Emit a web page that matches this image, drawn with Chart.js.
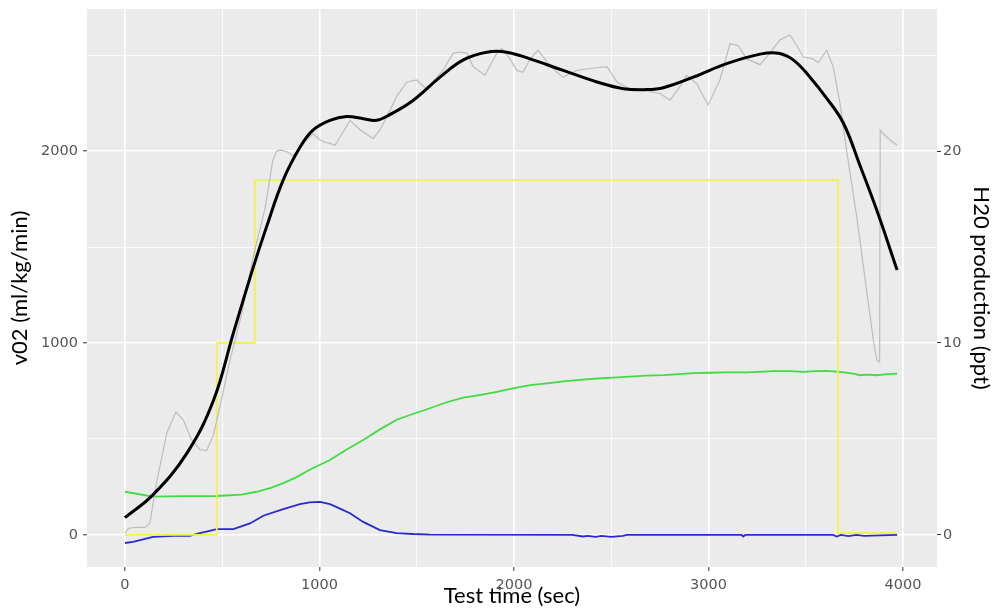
<!DOCTYPE html>
<html>
<head>
<meta charset="utf-8">
<script src="https://cdn.jsdelivr.net/npm/chart.js@4.4.0/dist/chart.umd.min.js"></script>
<style>
  html, body { margin: 0; padding: 0; background: #fff; }
  #wrap { width: 994px; height: 609px; }
</style>
</head>
<body>
<div id="wrap"><canvas id="vo2" width="994" height="609"></canvas></div>
<script>
// raw v02 trace (ml/kg/min)
const rawTime = [0, 20, 60, 100, 128, 160, 215, 262, 300, 340, 385, 420, 455, 500, 540, 600, 660, 720, 760, 780, 805, 835, 865, 900, 935, 968, 1000, 1030, 1054, 1080, 1110, 1157, 1210, 1276, 1310, 1347, 1400, 1450, 1500, 1552, 1590, 1635, 1688, 1720, 1758, 1790, 1851, 1912, 1938, 1980, 2015, 2047, 2083, 2125, 2170, 2210, 2253, 2324, 2390, 2478, 2530, 2596, 2650, 2700, 2750, 2802, 2850, 2888, 2940, 2998, 3059, 3111, 3152, 3197, 3265, 3300, 3368, 3419, 3454, 3488, 3539, 3564, 3608, 3641, 3676, 3710, 3762, 3815, 3850, 3866, 3880, 3883, 3900, 3930, 3970];
const rawV02 = [10, 35, 40, 38, 60, 260, 530, 640, 600, 500, 445, 440, 520, 720, 910, 1150, 1450, 1700, 1950, 2000, 2005, 1995, 1975, 2015, 2060, 2090, 2060, 2045, 2040, 2030, 2080, 2160, 2110, 2065, 2110, 2180, 2290, 2360, 2370, 2320, 2370, 2420, 2510, 2515, 2510, 2440, 2395, 2510, 2535, 2480, 2420, 2410, 2480, 2525, 2465, 2420, 2385, 2420, 2430, 2440, 2360, 2325, 2320, 2310, 2300, 2265, 2330, 2395, 2350, 2240, 2370, 2560, 2550, 2480, 2450, 2490, 2580, 2605, 2550, 2490, 2480, 2460, 2525, 2440, 2250, 2005, 1660, 1260, 1000, 910, 900, 2110, 2090, 2060, 2030];

// smoothed v02
const smoothTime = [0, 145, 318, 455, 557, 660, 728, 814, 900, 968, 1054, 1140, 1220, 1294, 1362, 1483, 1620, 1740, 1860, 1963, 2083, 2253, 2427, 2563, 2680, 2768, 2922, 3093, 3265, 3360, 3436, 3522, 3608, 3694, 3779, 3866, 3970];
const smoothV02 = [90, 210, 425, 700, 1050, 1395, 1605, 1850, 2020, 2110, 2160, 2180, 2170, 2160, 2190, 2265, 2385, 2475, 2515, 2515, 2480, 2420, 2360, 2325, 2320, 2330, 2385, 2455, 2505, 2510, 2475, 2385, 2275, 2145, 1925, 1690, 1380];

// step protocol (ppt axis)
const stepTime = [0, 472, 668, 3666, 3970];
const stepLevel = [0, 10, 18.5, 0.1, 0.1];

// H20 production (ppt)
const h2oTime = [0, 145, 300, 472, 600, 677, 750, 814, 880, 950, 1054, 1140, 1225, 1311, 1397, 1480, 1568, 1650, 1740, 1830, 1912, 2000, 2083, 2170, 2253, 2340, 2427, 2510, 2596, 2680, 2768, 2850, 2922, 3000, 3093, 3200, 3333, 3420, 3488, 3550, 3608, 3676, 3745, 3779, 3820, 3866, 3920, 3970];
const h2oPpt = [2.25, 2.0, 2.02, 2.03, 2.1, 2.25, 2.45, 2.7, 3.0, 3.4, 3.9, 4.45, 4.95, 5.5, 6.0, 6.3, 6.6, 6.9, 7.15, 7.3, 7.45, 7.65, 7.8, 7.9, 8.0, 8.08, 8.15, 8.2, 8.25, 8.3, 8.33, 8.38, 8.43, 8.45, 8.47, 8.47, 8.53, 8.53, 8.5, 8.53, 8.55, 8.5, 8.4, 8.32, 8.35, 8.32, 8.38, 8.4];

// second trace (ppt)
const blueTime = [0, 42, 145, 250, 334, 385, 430, 472, 557, 643, 711, 814, 900, 950, 1003, 1054, 1100, 1157, 1225, 1311, 1397, 1480, 1568, 2300, 2355, 2380, 2420, 2450, 2500, 2560, 2580, 3170, 3178, 3190, 3640, 3660, 3680, 3720, 3760, 3800, 3970];
const bluePpt = [-0.42, -0.36, -0.1, -0.05, -0.05, 0.1, 0.2, 0.3, 0.3, 0.6, 1.0, 1.35, 1.6, 1.7, 1.72, 1.6, 1.4, 1.13, 0.68, 0.25, 0.1, 0.05, 0.02, 0, -0.08, -0.05, -0.1, -0.05, -0.1, -0.05, 0, 0, -0.08, 0, 0, -0.08, 0, -0.06, 0, -0.05, 0];

const xGrid = [0, 500, 1000, 1500, 2000, 2500, 3000, 3500, 4000];
const yGrid = [0, 500, 1000, 1500, 2000, 2500];
const y2Ticks = [0, 10, 20];

const pts = (xs, ys) => xs.map((x, i) => ({x: x, y: ys[i]}));
const isMajor = (c) => c.tick && c.tick.value % 1000 === 0;
const tickFont = {family: 'DejaVu Sans', size: 14.5};
const titleFont = {family: 'Lato', size: 22};

const panelBg = {
  id: 'panelBg',
  beforeDraw(chart) {
    const {ctx, chartArea: a} = chart;
    ctx.save();
    ctx.fillStyle = '#EBEBEB';
    ctx.fillRect(a.left, a.top, a.right - a.left, a.bottom - a.top);
    ctx.restore();
  }
};

// fixed sizes so the panel sits where the original one does
const fitV = (w) => (s) => { s.width = w; s.paddingTop = 0; s.paddingBottom = 0; };

new Chart(document.getElementById('vo2'), {
  type: 'line',
  data: {
    datasets: [
      {
        data: pts(smoothTime, smoothV02),
        borderColor: '#000000', borderWidth: 3, tension: 0.4,
        yAxisID: 'y', pointRadius: 0
      },
      {
        data: pts(rawTime, rawV02),
        borderColor: '#BDBDBD', borderWidth: 1.2, tension: 0,
        yAxisID: 'y', pointRadius: 0
      },
      {
        data: pts(stepTime, stepLevel),
        borderColor: '#F2F250', borderWidth: 1.8, stepped: true,
        yAxisID: 'y2', pointRadius: 0
      },
      {
        data: pts(h2oTime, h2oPpt),
        borderColor: '#40DD40', borderWidth: 1.8, tension: 0,
        yAxisID: 'y2', pointRadius: 0
      },
      {
        data: pts(blueTime, bluePpt),
        borderColor: '#2A2AD0', borderWidth: 1.8, tension: 0,
        yAxisID: 'y2', pointRadius: 0
      }
    ]
  },
  options: {
    responsive: false,
    animation: false,
    devicePixelRatio: 1,
    layout: { padding: { top: 9, left: 0, right: 0, bottom: 0 } },
    plugins: { legend: { display: false }, tooltip: { enabled: false } },
    scales: {
      x: {
        type: 'linear', min: -195, max: 4175,
        afterBuildTicks: (s) => { s.ticks = xGrid.map(v => ({value: v})); },
        afterFit: (s) => { s.height = 42; s.paddingLeft = 0; s.paddingRight = 0; },
        ticks: {
          autoSkip: false, maxRotation: 0, padding: 6, color: '#555', font: tickFont,
          callback: (v) => v % 1000 === 0 ? String(v) : ''
        },
        grid: {
          color: '#FFFFFF', lineWidth: (c) => isMajor(c) ? 1.6 : 0.8,
          tickLength: 4, tickWidth: 1,
          tickColor: (c) => isMajor(c) ? '#333' : 'rgba(0,0,0,0)'
        },
        border: { display: false },
        title: { display: true, text: 'Test time (sec)', color: '#000', font: titleFont, padding: {top: 0, bottom: 0} }
      },
      y: {
        position: 'left', min: -167, max: 2740,
        afterBuildTicks: (s) => { s.ticks = yGrid.map(v => ({value: v})); },
        afterFit: fitV(87),
        ticks: {
          padding: 5, color: '#555', font: tickFont,
          callback: (v) => v % 1000 === 0 ? String(v) : ''
        },
        grid: {
          color: '#FFFFFF', lineWidth: (c) => isMajor(c) ? 1.6 : 0.8,
          tickLength: 4, tickWidth: 1,
          tickColor: (c) => isMajor(c) ? '#333' : 'rgba(0,0,0,0)'
        },
        border: { display: false },
        title: { display: true, text: 'v02 (ml/kg/min)', color: '#000', font: titleFont, padding: {top: 7, bottom: 0} }
      },
      y2: {
        position: 'right', min: -1.67, max: 27.4,
        afterBuildTicks: (s) => { s.ticks = y2Ticks.map(v => ({value: v})); },
        afterFit: fitV(57),
        ticks: { padding: 2, color: '#555', font: tickFont },
        grid: { drawOnChartArea: false, tickLength: 4, tickWidth: 1, tickColor: '#333' },
        border: { display: false },
        title: { display: true, text: 'H20 production (ppt)', color: '#000', font: titleFont, padding: {top: 0, bottom: 0} }
      }
    }
  },
  plugins: [panelBg]
});
</script>
</body>
</html>
